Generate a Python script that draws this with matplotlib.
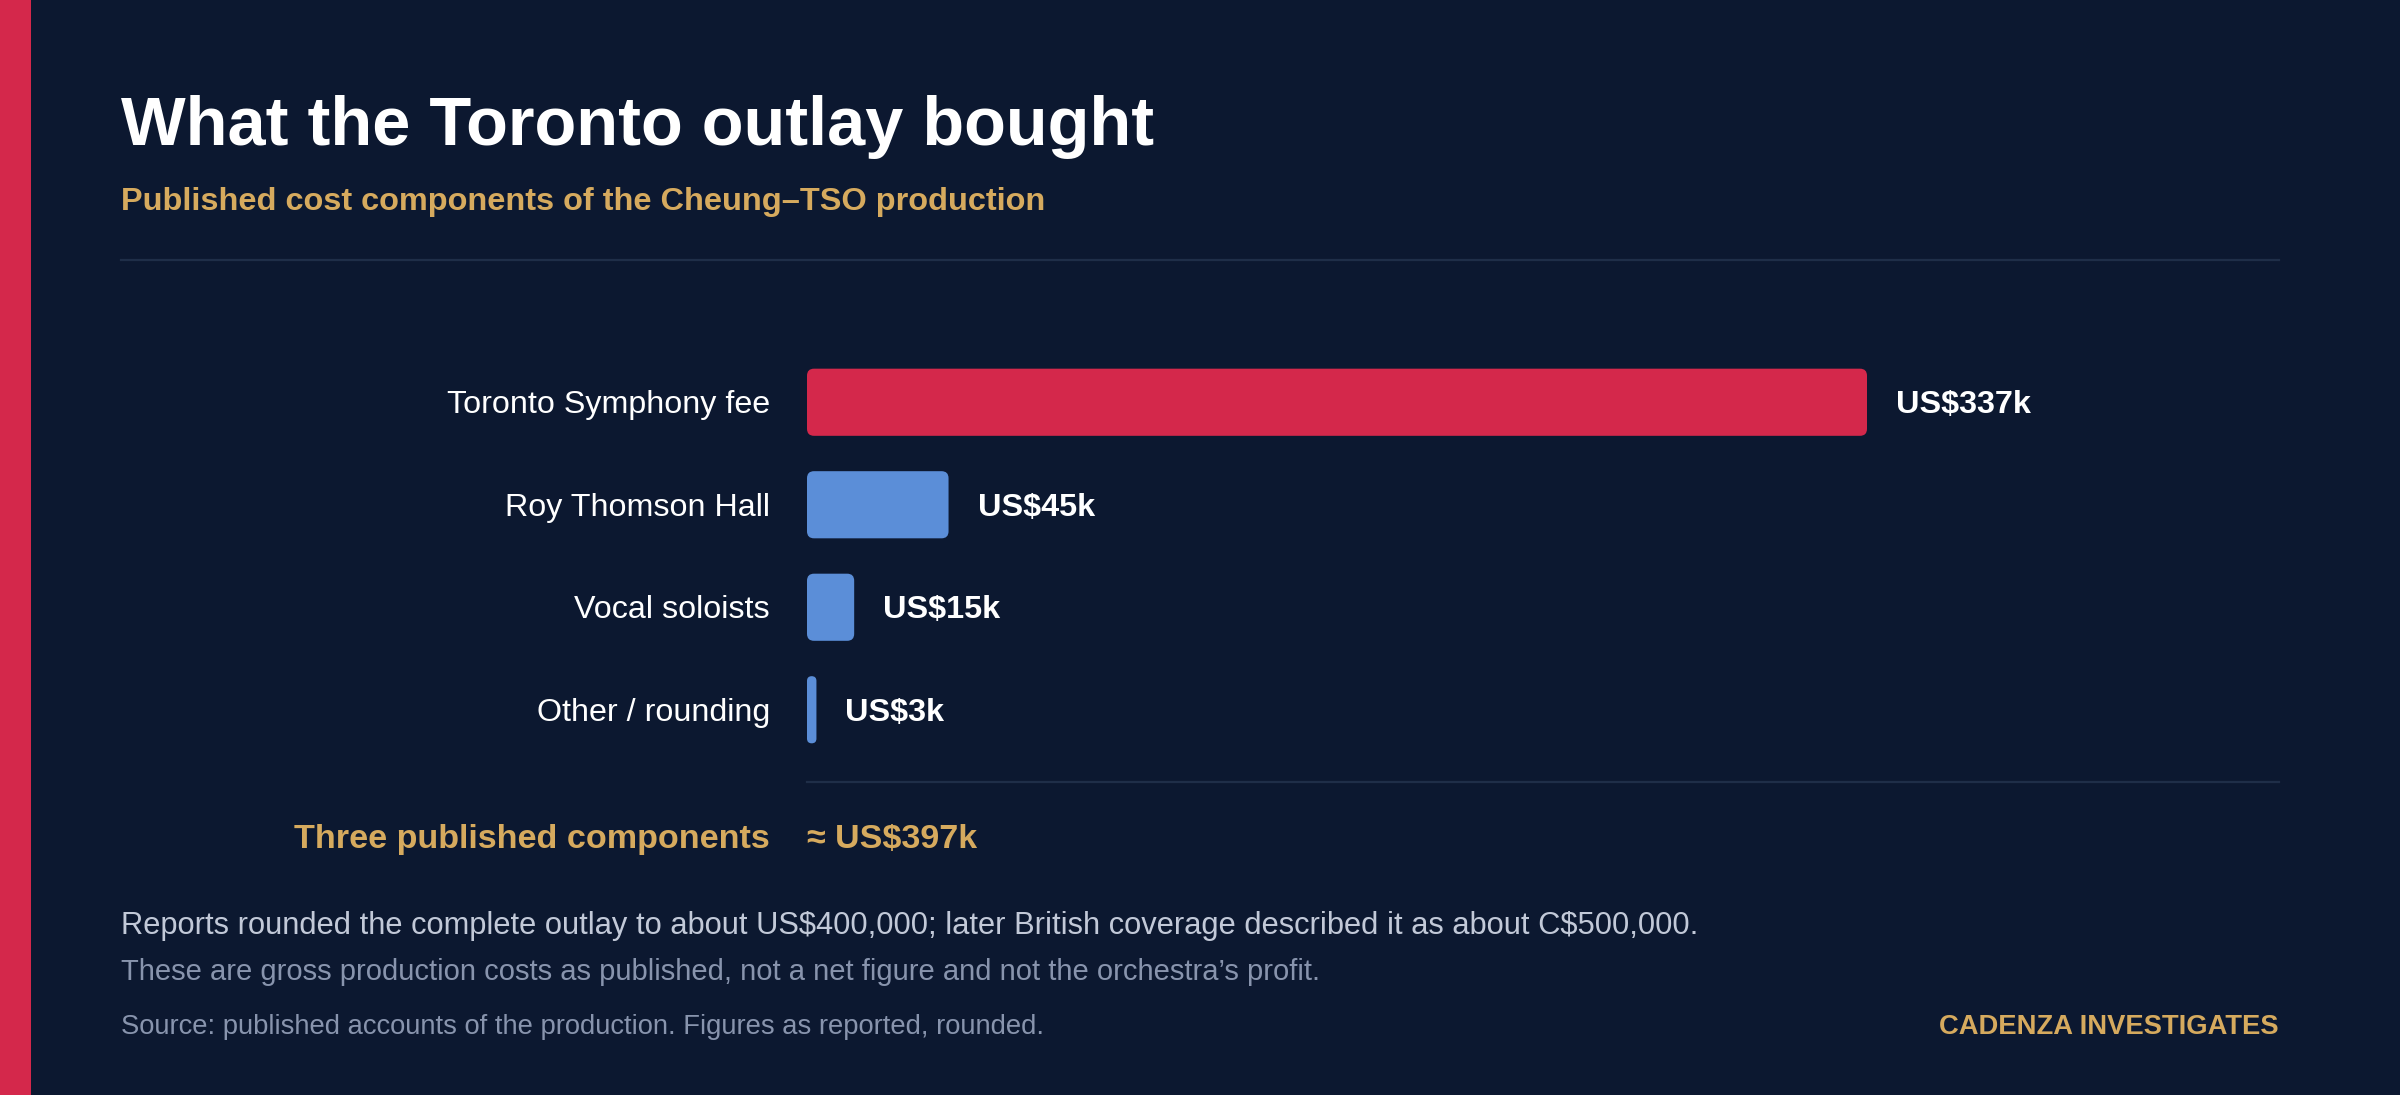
import matplotlib
matplotlib.use("Agg")
import matplotlib.pyplot as plt
from matplotlib.patches import FancyBboxPatch, Rectangle

plt.rcParams["text.parse_math"] = False

# ---- data ----
categories = ["Toronto Symphony fee", "Roy Thomson Hall", "Vocal soloists", "Other / rounding"]
values_k = [337, 45, 15, 3]
value_labels = ["US$337k", "US$45k", "US$15k", "US$3k"]
total_label = "Three published components"
total_value = "\u2248 US$397k"
title = "What the Toronto outlay bought"
subtitle = "Published cost components of the Cheung\u2013TSO production"
note1 = "Reports rounded the complete outlay to about US$400,000; later British coverage described it as about C$500,000."
note2 = "These are gross production costs as published, not a net figure and not the orchestra\u2019s profit."
source = "Source: published accounts of the production. Figures as reported, rounded."
brand = "CADENZA INVESTIGATES"

# ---- style ----
BG = "#0c1830"
RED = "#d4284b"
BLUE = "#5b8ed8"
GOLD = "#d6aa5e"
WHITE = "#ffffff"
NOTE1 = "#c2c9d8"
NOTE2 = "#8894ad"
RULE = "#1f2e48"
FONT = "Liberation Sans"

W, H = 2400, 1095
DPI = 100
fig = plt.figure(figsize=(W / DPI, H / DPI), dpi=DPI, facecolor=BG)

def fx(px):
    return px / W

def fy(py):
    return 1 - py / H

# left accent stripe
fig.patches.append(Rectangle((0, 0), fx(31), 1, transform=fig.transFigure,
                             facecolor=RED, edgecolor="none"))

texts_to_fit = []

def ftext(x, y, s, target_w, **kw):
    t = fig.text(fx(x), fy(y), s, family=FONT, **kw)
    texts_to_fit.append((t, target_w))
    return t

ftext(121, 145, title, 1033, fontsize=49, fontweight="bold", color=WHITE, va="baseline")
ftext(121, 210, subtitle, 925, fontsize=23, fontweight="bold", color=GOLD, va="baseline")

# rules
fig.add_artist(plt.Line2D([fx(121), fx(2279)], [fy(260), fy(260)], color=RULE, lw=1.6,
                          transform=fig.transFigure))
fig.add_artist(plt.Line2D([fx(807), fx(2279)], [fy(782), fy(782)], color=RULE, lw=1.6,
                          transform=fig.transFigure))

# bar axes
ax_left, ax_right = 807, 2279
ax_top, ax_bot = 351, 761
ax = fig.add_axes([fx(ax_left), fy(ax_bot), fx(ax_right - ax_left), (ax_bot - ax_top) / H])
ax.set_facecolor("none")
px_per_unit = (1867 - 807) / 337.0
ax.set_xlim(0, (ax_right - ax_left) / px_per_unit)
ax.set_ylim(len(categories) - 0.5, -0.5)
ax.axis("off")

bar_h = 0.655
x_per_px = 1 / px_per_unit
y_per_px = 1 / ((ax_bot - ax_top) / len(categories))
radius_px = 7
for i, (cat, v, lab) in enumerate(zip(categories, values_k, value_labels)):
    color = RED if i == 0 else BLUE
    bar_px = v * px_per_unit
    r_px = min(radius_px, bar_px / 2)
    p = FancyBboxPatch((0, i - bar_h / 2), v, bar_h,
                       boxstyle=f"round,pad=0,rounding_size={r_px * x_per_px}",
                       mutation_aspect=y_per_px / x_per_px,
                       facecolor=color, edgecolor="none")
    ax.add_patch(p)
    ty = i + 3 * y_per_px
    ax.text(v + 29 * x_per_px, ty, lab, family=FONT, fontsize=23.3, fontweight="bold",
            color=WHITE, va="center", ha="left")
    ax.text(-37 * x_per_px, ty, cat, family=FONT, fontsize=23.2, color=WHITE,
            va="center", ha="right")

ftext(770, 848, total_label, 476, fontsize=23.3, fontweight="bold", color=GOLD,
      va="baseline", ha="right")
ftext(807, 848, total_value, 170, fontsize=23.3, fontweight="bold", color=GOLD,
      va="baseline", ha="left")

ftext(121, 934, note1, 1573, fontsize=20, color=NOTE1, va="baseline")
ftext(121, 980, note2, 1197, fontsize=18, color=NOTE2, va="baseline")
ftext(121, 1034, source, 924, fontsize=18, color=NOTE2, va="baseline")
ftext(2279, 1034, brand, 338, fontsize=19, fontweight="bold", color=GOLD,
      va="baseline", ha="right")

# fit font sizes to measured widths in the reference
fig.canvas.draw()
r = fig.canvas.get_renderer()
for t, tw in texts_to_fit:
    w = t.get_window_extent(renderer=r).width
    t.set_fontsize(t.get_fontsize() * tw / w)

fig.savefig("out.png", dpi=DPI, facecolor=BG)
